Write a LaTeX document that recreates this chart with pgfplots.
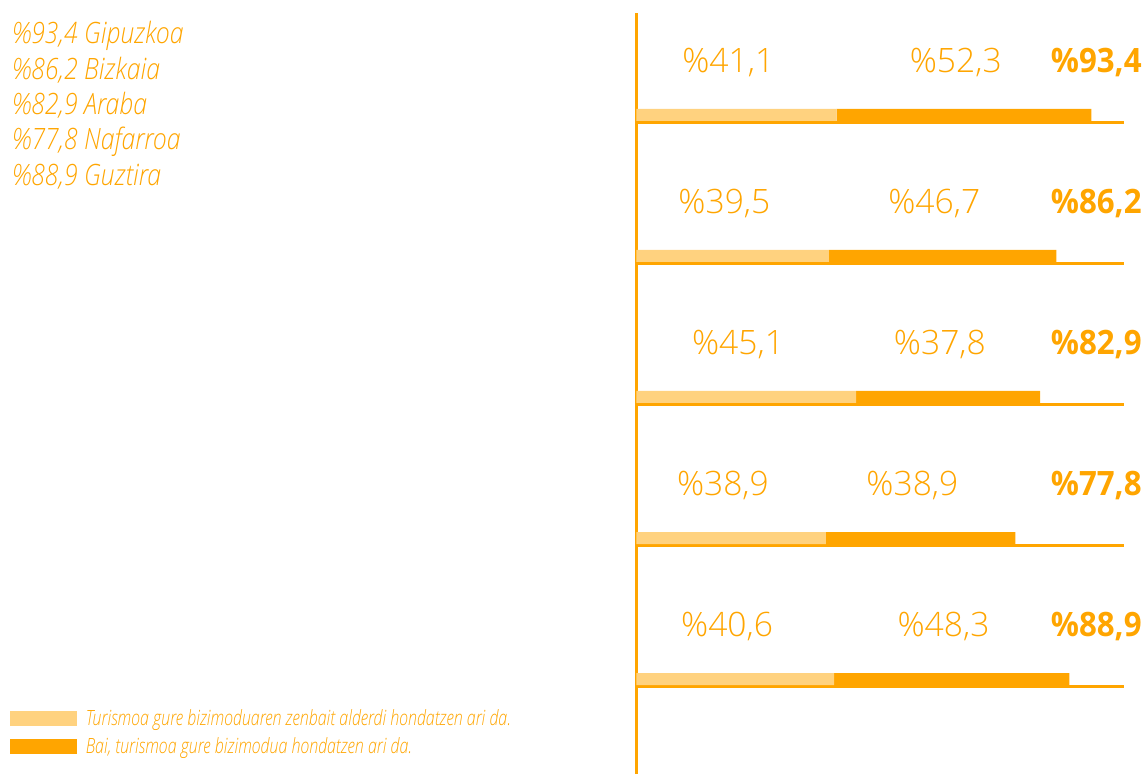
\documentclass[border=0pt]{standalone}
\usepackage{pgfplots}
\pgfplotsset{compat=1.18}
\usepackage{fontspec}
\setmainfont{Open Sans}
\newfontfamily\lightfont{Open Sans Light}[ItalicFont={Open Sans Light Italic}]
\newfontfamily\totfont{Open Sans}[FakeStretch=0.93]
\newfontfamily\condfont{Open Sans Light}[ItalicFont={Open Sans Light Italic}, FakeStretch=0.845]
\newfontfamily\legfont{Open Sans Light}[ItalicFont={Open Sans Light Italic}, FakeStretch=0.763]
\definecolor{barlight}{HTML}{FFD27F}
\definecolor{barorange}{HTML}{FFA500}
\tikzset{
  seglab/.style={anchor=base, inner sep=0pt, text=barorange, font=\lightfont\fontsize{16.8}{20}\selectfont},
  totlab/.style={anchor=base east, inner sep=0pt, text=barorange, font=\totfont\bfseries\fontsize{16.8}{20}\selectfont},
  rowline/.style={barorange, line width=1.5pt},
}

\begin{document}
\begin{tikzpicture}
  % 1 px of the reference = 0.5pt, origin at the top left corner
  \begin{scope}[x=0.5pt, y=-0.5pt]
    \useasboundingbox (0,0) rectangle (1146,774);
    \node[anchor=base west, inner sep=0pt, text=barorange, font=\condfont\itshape\fontsize{14.7}{17}\selectfont] at (12,44) {\%93,4 Gipuzkoa};
    \node[anchor=base west, inner sep=0pt, text=barorange, font=\condfont\itshape\fontsize{14.7}{17}\selectfont] at (12,79.3) {\%86,2 Bizkaia};
    \node[anchor=base west, inner sep=0pt, text=barorange, font=\condfont\itshape\fontsize{14.7}{17}\selectfont] at (12,114.6) {\%82,9 Araba};
    \node[anchor=base west, inner sep=0pt, text=barorange, font=\condfont\itshape\fontsize{14.7}{17}\selectfont] at (12,149.9) {\%77,8 Nafarroa};
    \node[anchor=base west, inner sep=0pt, text=barorange, font=\condfont\itshape\fontsize{14.7}{17}\selectfont] at (12,185.2) {\%88,9 Guztira};
  \end{scope}

  \begin{axis}[
      at={(318.25pt,-387pt)}, anchor=south west,
      scale only axis, width=243.5pt, height=380.5pt,
      xmin=0, xmax=100, ymin=-0.62, ymax=4.775,
      axis x line=none, axis y line*=left,
      y axis line style={barorange, line width=1.5pt},
      ytick=\empty, xtick=\empty,
      xbar stacked, bar width=6pt,
      clip=false,
      legend style={at={(axis cs:-130.0,-0.13)}, anchor=north west,
        draw=none, fill=none, row sep=4.5pt, column sep=4.5pt,
        nodes={inner sep=0pt, text=barorange},
        font=\legfont\itshape\fontsize{10.5}{12}\selectfont},
      legend cell align=left,
      legend image code/.code={\fill[#1] (0pt,-3.75pt) rectangle (33.5pt,3.75pt);},
    ]
    \addplot[fill=barlight, draw=none] coordinates {
      (41.1,4.053) (39.5,3.053) (45.1,2.053) (38.9,1.053) (40.6,0.053)
    };
    \addplot[fill=barorange, draw=none] coordinates {
      (52.3,4.053) (46.7,3.053) (37.8,2.053) (38.9,1.053) (48.3,0.053)
    };
    \legend{Turismoa gure bizimoduaren zenbait alderdi hondatzen ari da.,
            {Bai, turismoa gure bizimodua hondatzen ari da.}}

    \draw[rowline] (axis cs:0,4) -- (axis cs:100,4);
    \draw[rowline] (axis cs:0,3) -- (axis cs:100,3);
    \draw[rowline] (axis cs:0,2) -- (axis cs:100,2);
    \draw[rowline] (axis cs:0,1) -- (axis cs:100,1);
    \draw[rowline] (axis cs:0,0) -- (axis cs:100,0);

    \node[seglab] at (axis cs:18.85,4.355) {\%41,1};
    \node[seglab] at (axis cs:65.55,4.355) {\%52,3};
    \node[seglab] at (axis cs:18.05,3.355) {\%39,5};
    \node[seglab] at (axis cs:61.15,3.355) {\%46,7};
    \node[seglab] at (axis cs:20.85,2.355) {\%45,1};
    \node[seglab] at (axis cs:62.3,2.355) {\%37,8};
    \node[seglab] at (axis cs:17.75,1.355) {\%38,9};
    \node[seglab] at (axis cs:56.65,1.355) {\%38,9};
    \node[seglab] at (axis cs:18.6,0.355) {\%40,6};
    \node[seglab] at (axis cs:63.05,0.355) {\%48,3};

    \node[totlab] at (axis cs:103.8,4.355) {\%93,4};
    \node[totlab] at (axis cs:103.8,3.355) {\%86,2};
    \node[totlab] at (axis cs:103.8,2.355) {\%82,9};
    \node[totlab] at (axis cs:103.8,1.355) {\%77,8};
    \node[totlab] at (axis cs:103.8,0.355) {\%88,9};
  \end{axis}
\end{tikzpicture}
\end{document}
